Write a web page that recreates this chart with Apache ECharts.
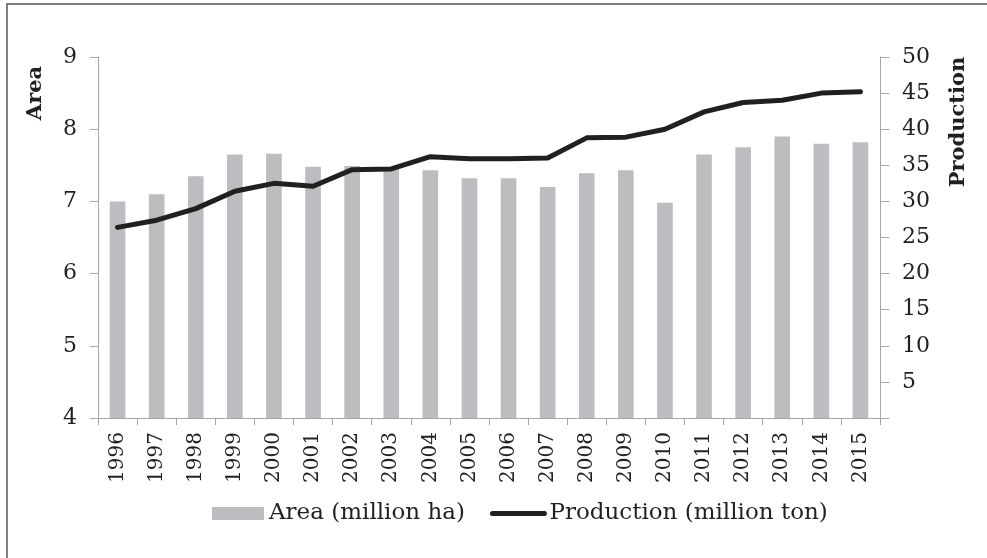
<!DOCTYPE html>
<html>
<head>
<meta charset="utf-8">
<script src="https://cdn.jsdelivr.net/npm/echarts@6/dist/echarts.min.js"></script>
<style>html,body{margin:0;padding:0;background:#fff;}#c{width:987px;height:558px;}</style>
</head>
<body>
<div id="c"></div>
<script>
var years = ['1996','1997','1998','1999','2000','2001','2002','2003','2004','2005','2006','2007','2008','2009','2010','2011','2012','2013','2014','2015'];
var areaValues = [7.00, 7.10, 7.35, 7.65, 7.66, 7.48, 7.49, 7.46, 7.43, 7.32, 7.32, 7.20, 7.39, 7.43, 6.98, 7.65, 7.75, 7.90, 7.80, 7.82];
var productionValues = [26.4, 27.4, 29.0, 31.4, 32.5, 32.1, 34.4, 34.5, 36.2, 35.9, 35.9, 36.0, 38.8, 38.9, 40.0, 42.4, 43.7, 44.0, 45.0, 45.2];
var areaTicks = {min: 4, max: 9, interval: 1};
var prodTicks = {min: 0, max: 50, interval: 5};

var FONT = 'DejaVu Serif';
var axisColor = '#a6a6a6';
var chart = echarts.init(document.getElementById('c'));
chart.setOption({
  animation: false,
  backgroundColor: '#fff',
  textStyle: {fontFamily: FONT, color: '#231f20'},
  grid: {left: 98, right: 107, top: 57, bottom: 140},
  legend: {
    bottom: 28, left: 207,
    itemWidth: 52, itemHeight: 13, itemGap: 25,
    textStyle: {fontFamily: FONT, fontSize: 23, color: '#231f20'},
    data: [
      {name: 'Area (million ha)', icon: 'rect'},
      {name: 'Production (million ton)', itemStyle: {opacity: 0}, lineStyle: {width: 5, color: '#231f20'}}
    ]
  },
  xAxis: {
    type: 'category', data: years,
    axisLine: {lineStyle: {color: axisColor, width: 1}},
    axisTick: {show: true, length: 7, alignWithLabel: false, lineStyle: {color: axisColor}},
    axisLabel: {rotate: 90, fontSize: 20, color: '#231f20', fontFamily: FONT, margin: 14, interval: 0}
  },
  yAxis: [{
    type: 'value', min: areaTicks.min, max: areaTicks.max, interval: areaTicks.interval,
    splitLine: {show: false},
    axisLine: {show: true, lineStyle: {color: axisColor}},
    axisTick: {show: true, length: 8, lineStyle: {color: axisColor}},
    axisLabel: {fontSize: 22, color: '#231f20', fontFamily: FONT, margin: 21}
  }, {
    type: 'value', min: prodTicks.min, max: prodTicks.max, interval: prodTicks.interval,
    position: 'right',
    splitLine: {show: false},
    axisLine: {show: true, lineStyle: {color: axisColor}},
    axisTick: {show: true, length: 9, lineStyle: {color: axisColor}},
    axisLabel: {fontSize: 22, color: '#231f20', fontFamily: FONT, margin: 22,
      formatter: function (v) { return v === 0 ? '' : String(v); }}
  }],
  series: [{
    name: 'Area (million ha)', type: 'bar', yAxisIndex: 0,
    data: areaValues, barWidth: '40%',
    itemStyle: {color: '#bcbdc0'}
  }, {
    name: 'Production (million ton)', type: 'line', yAxisIndex: 1,
    data: productionValues, showSymbol: false, symbol: 'none',
    lineStyle: {color: '#231f20', width: 5, cap: 'round', join: 'round'},
    itemStyle: {color: '#231f20'}
  }],
  graphic: [
    {type: 'rect', shape: {x: 7, y: 4, width: 1200, height: 1200}, style: {fill: 'none', stroke: '#555', lineWidth: 1.5}, silent: true},
    {type: 'text', x: 36, y: 93, rotation: Math.PI / 2,
      style: {text: 'Area', font: 'bold 21px "DejaVu Serif"', fill: '#231f20', textAlign: 'center', textVerticalAlign: 'middle'}},
    {type: 'text', x: 959, y: 122, rotation: Math.PI / 2,
      style: {text: 'Production', font: 'bold 21px "DejaVu Serif"', fill: '#231f20', textAlign: 'center', textVerticalAlign: 'middle'}}
  ]
});
</script>
</body>
</html>
